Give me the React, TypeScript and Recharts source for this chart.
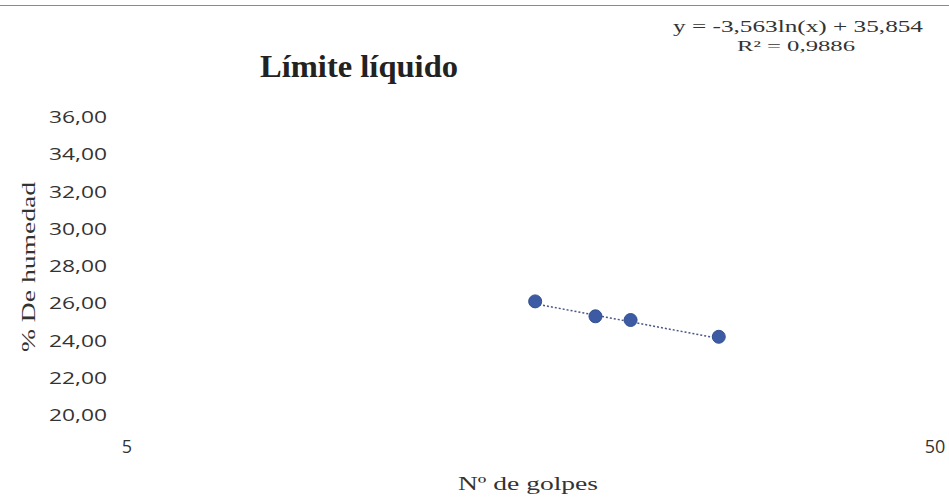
import { Scatter, ScatterChart, XAxis, YAxis, ZAxis } from "recharts";

// golpes vs % humedad
const golpes = [16, 19, 21, 27];
const humedad = [26.1, 25.3, 25.1, 24.2];

// extremos de la línea de tendencia (y = -3,563ln(x) + 35,854)
const trendX = [16, 27];
const trendY = [25.97, 24.11];

const yTicks = [20, 22, 24, 26, 28, 30, 32, 34, 36];
const xTicks = [5, 50];

const points = golpes.map((g, i) => ({ x: g, y: humedad[i] }));
const trend = trendX.map((g, i) => ({ x: g, y: trendY[i] }));

const serif = "'Liberation Serif', 'DejaVu Serif', serif";
const sans = "'Open Sans', Lato, sans-serif";

const fmt = (v: number) => v.toFixed(2).replace(".", ",");

const Dot = (props: any) => {
  const { cx, cy } = props;
  if (cx == null || cy == null) return null;
  return <circle cx={cx} cy={cy} r={6.5} fill="#3d5aa5" stroke="#33508f" strokeWidth={1} />;
};

const YTick = (props: any) => {
  const { x, y, payload } = props;
  return (
    <text
      x={x - 20}
      y={y}
      dy="0.36em"
      textAnchor="end"
      fontFamily={sans}
      fontSize={17}
      fill="#333"
      textLength={58}
      lengthAdjust="spacingAndGlyphs"
    >
      {fmt(payload.value)}
    </text>
  );
};

const XTick = (props: any) => {
  const { x, y, payload } = props;
  return (
    <text x={x} y={y + 38} textAnchor="middle" fontFamily={sans} fontSize={18} fill="#333">
      {String(payload.value)}
    </text>
  );
};

export default function App() {
  return (
    <div
      style={{
        position: "absolute",
        left: 0,
        top: 0,
        width: 949,
        height: 497,
        background: "#fff",
        overflow: "hidden",
      }}
    >
      <div style={{ position: "absolute", left: 0, right: 0, top: 5, height: 1, background: "#8a8a8a" }} />
      <ScatterChart width={949} height={497} margin={{ top: 117, right: 14, bottom: 0, left: 0 }}>
        <XAxis
          type="number"
          dataKey="x"
          scale="log"
          domain={[5, 50]}
          ticks={xTicks}
          allowDataOverflow
          axisLine={false}
          tickLine={false}
          tickSize={0}
          tickMargin={0}
          tick={<XTick />}
          height={82}
        />
        <YAxis
          type="number"
          dataKey="y"
          domain={[20, 36]}
          ticks={yTicks}
          axisLine={false}
          tickLine={false}
          tickSize={0}
          tickMargin={0}
          tick={<YTick />}
          width={127}
        />
        <ZAxis range={[100, 100]} />
        <Scatter
          data={trend}
          line={{ stroke: "#4a5784", strokeWidth: 1.5, strokeDasharray: "2 2" }}
          shape={() => null}
          isAnimationActive={false}
        />
        <Scatter data={points} shape={Dot} isAnimationActive={false} />
      </ScatterChart>
      <svg width={949} height={497} style={{ position: "absolute", left: 0, top: 0, pointerEvents: "none" }}>
        <text
          x={359}
          y={77}
          textAnchor="middle"
          fontFamily={serif}
          fontWeight="bold"
          fontSize={31}
          fill="#222"
          textLength={198}
          lengthAdjust="spacingAndGlyphs"
        >
          Límite líquido
        </text>
        <text
          x={798}
          y={32}
          textAnchor="middle"
          fontFamily={serif}
          fontSize={16}
          fill="#333"
          textLength={250}
          lengthAdjust="spacingAndGlyphs"
        >
          y = -3,563ln(x) + 35,854
        </text>
        <text
          x={796}
          y={51}
          textAnchor="middle"
          fontFamily={serif}
          fontSize={15}
          fill="#333"
          textLength={118}
          lengthAdjust="spacingAndGlyphs"
        >
          R² = 0,9886
        </text>
        <text
          x={528}
          y={490}
          textAnchor="middle"
          fontFamily={serif}
          fontSize={19}
          fill="#333"
          textLength={140}
          lengthAdjust="spacingAndGlyphs"
        >
          Nº de golpes
        </text>
        <text
          transform="translate(35,267) rotate(-90)"
          textAnchor="middle"
          fontFamily={serif}
          fontSize={19}
          fill="#333"
          textLength={170}
          lengthAdjust="spacingAndGlyphs"
        >
          % De humedad
        </text>
      </svg>
    </div>
  );
}
